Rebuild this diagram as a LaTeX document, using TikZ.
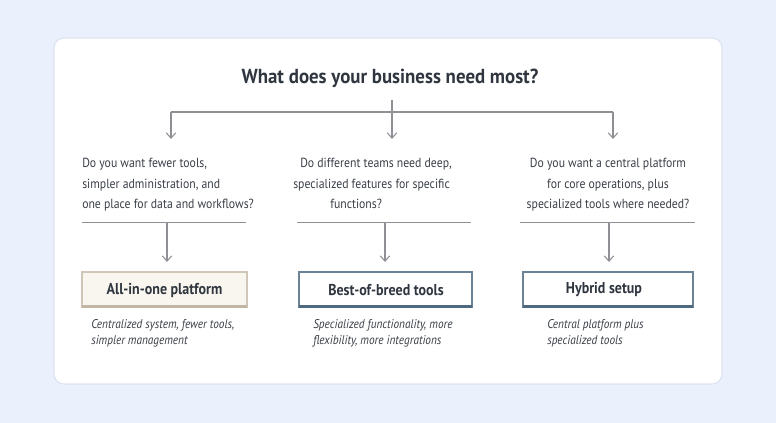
\documentclass[tikz,border=0pt]{standalone}
\usepackage{fontspec}
\setmainfont{PT Sans}[FakeStretch=0.89]
\newfontfamily\titlefont{PT Sans}[FakeStretch=0.93]
\usetikzlibrary{arrows.meta}
\definecolor{bgc}{HTML}{EBF1FC}
\definecolor{cardb}{HTML}{DCE3EE}
\definecolor{linec}{HTML}{8E9095}
\definecolor{txt}{HTML}{3A3F47}
\definecolor{ttl}{HTML}{30363F}
\definecolor{creamf}{HTML}{F9F6F0}
\definecolor{creamb}{HTML}{CFC6B8}
\definecolor{creamd}{HTML}{C2B6A4}
\definecolor{bluef}{HTML}{FFFFFF}
\definecolor{blueb}{HTML}{6A8396}
\definecolor{blued}{HTML}{4F6A7E}
\tikzset{
  conn/.style={draw=linec, line width=0.8pt},
  arr/.style={conn, -{Straight Barb[length=4pt,width=7pt]}},
  qtext/.style={font=\fontsize{9.9pt}{15.4pt}\selectfont, text=txt, inner sep=0pt},
  dtext/.style={font=\fontsize{9.5pt}{12.4pt}\selectfont\itshape, text=txt, inner sep=0pt, align=left, anchor=north west},
  boxlabel/.style={font=\fontsize{11.8pt}{13pt}\selectfont\bfseries, text=ttl},
}
\begin{document}
\begin{tikzpicture}[x=0.75pt,y=-0.75pt]
\useasboundingbox (0,0) rectangle (776,423);
\fill[bgc] (0,0) rectangle (776,423);
\draw[cardb, fill=white, rounded corners=7.5pt, line width=0.8pt] (54,38) rectangle (722,384);
% title
\node[font=\titlefont\fontsize{15.2pt}{17pt}\selectfont\bfseries, text=ttl] (title) at (390,78) {What does your business need most?};
\coordinate (top) at (392,100);
\coordinate (hl) at (171,112);
\coordinate (hm) at (392,112);
\coordinate (hr) at (613,112);
\draw[conn] (top) -- (hm);
\draw[conn] (hl) -- (hr);
% questions
\node[qtext, align=left, anchor=north west] (q1) at (82,158) {Do you want fewer tools,\\simpler administration, and\\one place for data and workflows?};
\node[qtext, align=left, anchor=north west] (q2) at (293,158) {\hspace*{5.25pt}Do different teams need deep,\\specialized features for specific\\\hspace*{27.75pt}functions?};
\node[qtext, align=center, anchor=north] (q3) at (608,158) {Do you want a central platform\\for core operations, plus\\specialized tools where needed?};
\draw[arr] (hl) -- (171,139);
\draw[arr] (hm) -- (392,139);
\draw[arr] (hr) -- (613,139);
% separators
\coordinate (s1a) at (82,222); \coordinate (s1b) at (246,222);
\coordinate (s2a) at (297,222); \coordinate (s2b) at (471,222);
\coordinate (s3a) at (520,222); \coordinate (s3b) at (695,222);
\draw[conn, line width=0.7pt] (s1a) -- (s1b);
\draw[conn, line width=0.7pt] (s2a) -- (s2b);
\draw[conn, line width=0.7pt] (s3a) -- (s3b);
% boxes
\draw[creamb, fill=creamf, line width=0.8pt] (82,272) rectangle (247,307);
\draw[creamd, line width=2.2pt] (82,306.5) -- (247,306.5);
\node[boxlabel] (b1) at (164.5,290) {All-in-one platform};
\draw[blueb, fill=bluef, line width=0.8pt] (299,272) rectangle (472,307);
\draw[blued, line width=2.2pt] (299,306.5) -- (472,306.5);
\node[boxlabel] (b2) at (386,290) {Best-of-breed tools};
\draw[blueb, fill=bluef, line width=0.8pt] (523,272) rectangle (693,307);
\draw[blued, line width=2.2pt] (523,306.5) -- (693,306.5);
\node[boxlabel] (b3) at (604,290) {Hybrid setup};
\coordinate (a1) at (167,222); \coordinate (a2) at (385,222); \coordinate (a3) at (609,222);
\draw[arr] (a1) -- (167,262);
\draw[arr] (a2) -- (385,262);
\draw[arr] (a3) -- (609,262);
% descriptions
\node[dtext] (d1) at (91,319) {Centralized system, fewer tools,\\simpler management};
\node[dtext] (d2) at (313,319) {Specialized functionality, more\\flexibility, more integrations};
\node[dtext] (d3) at (547,319) {Central platform plus\\specialized tools};
\end{tikzpicture}
\end{document}
